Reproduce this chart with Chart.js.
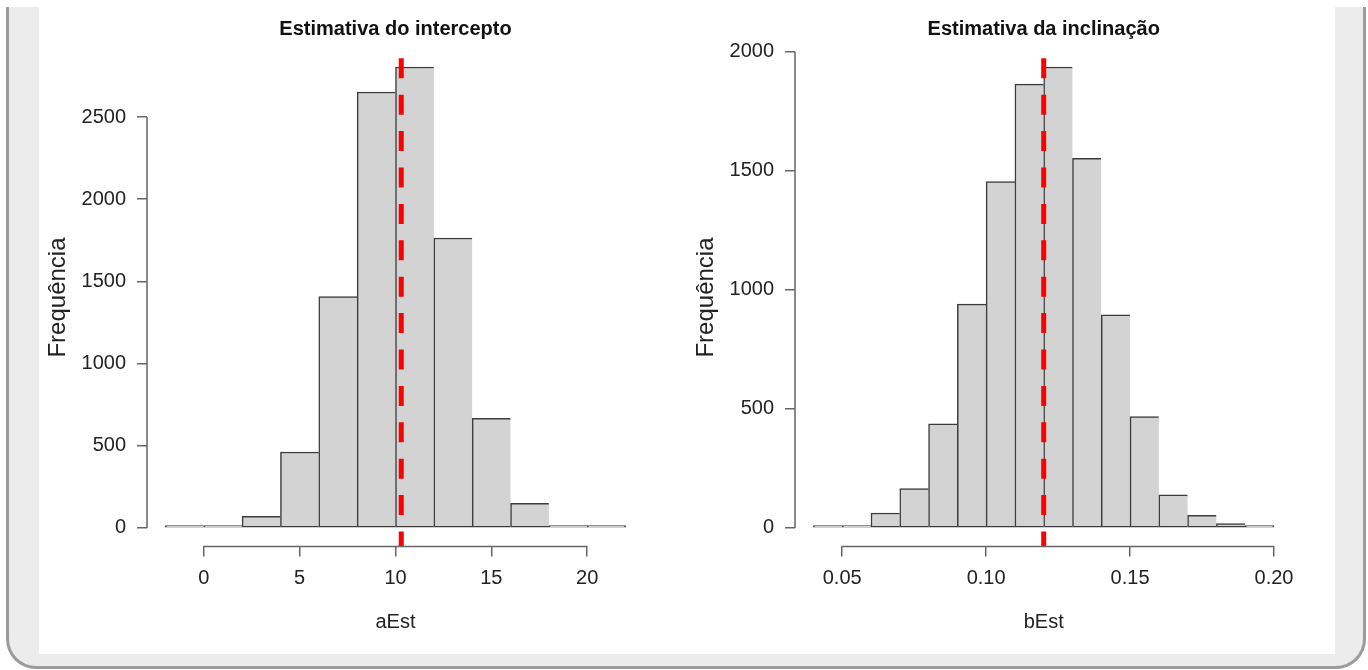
<!DOCTYPE html>
<html lang="pt">
<head>
<meta charset="utf-8">
<script src="https://cdn.jsdelivr.net/npm/chart.js@4.4.1/dist/chart.umd.min.js"></script>
<style>
  html, body { margin: 0; padding: 0; background: #fff; }
  body { width: 1368px; height: 670px; position: relative; overflow: hidden; }
  .frame {
    position: absolute; left: 6px; top: 7px; width: 1360px; height: 662px;
    box-sizing: border-box; background: #ececec;
    border: 3px solid #9b9b9b; border-top: none;
    border-radius: 0 0 30px 30px;
  }
  .panel { position: absolute; left: 39px; top: 0; width: 1296px; height: 654px; background: #fff; }
  canvas { position: absolute; top: 0; }
  #left { left: 0; }
  #right { left: 684px; }
</style>
</head>
<body>
<div class="frame"></div>
<div class="panel"></div>
<canvas id="left" width="684" height="670"></canvas>
<canvas id="right" width="684" height="670"></canvas>
<script>
// Intercept estimates: bin edges, counts per bin, reference value and axis ticks
const aBreaks = [-2, 0, 2, 4, 6, 8, 10, 12, 14, 16, 18, 20, 22];
const aCounts = [2, 10, 71, 462, 1407, 2652, 2804, 1764, 667, 150, 14, 3];
const aMark = 10.3;
const aXTicks = [0, 5, 10, 15, 20];
const aXLabels = ['0', '5', '10', '15', '20'];
const aYTicks = [0, 500, 1000, 1500, 2000, 2500];
const aYLabels = ['0', '500', '1000', '1500', '2000', '2500'];

// Slope estimates
const bBreaks = [0.04, 0.05, 0.06, 0.07, 0.08, 0.09, 0.10, 0.11, 0.12, 0.13, 0.14, 0.15, 0.16, 0.17, 0.18, 0.19, 0.20];
const bCounts = [3, 8, 63, 165, 437, 940, 1455, 1864, 1936, 1553, 895, 468, 139, 53, 18, 3];
const bMark = 0.12;
const bXTicks = [0.05, 0.10, 0.15, 0.20];
const bXLabels = ['0.05', '0.10', '0.15', '0.20'];
const bYTicks = [0, 500, 1000, 1500, 2000];
const bYLabels = ['0', '500', '1000', '1500', '2000'];

const FONT = '"Liberation Sans", Arial, Helvetica, sans-serif';
const INK = '#222';
const AXIS = '#666';

// Detached axis lines, dashed reference line and the panel title
const rAxes = {
  id: 'rAxes',
  afterDatasetsDraw(chart, args, opts) {
    const { ctx, chartArea: ca, scales: { x } } = chart;
    ctx.save();
    const mx = x.getPixelForValue(opts.mark);
    ctx.beginPath();
    ctx.strokeStyle = '#ff0000';
    ctx.lineWidth = 5;
    ctx.setLineDash([20, 16.4]);
    ctx.lineDashOffset = 26.7;
    ctx.moveTo(mx, ca.top);
    ctx.lineTo(mx, ca.bottom);
    ctx.stroke();
    ctx.restore();
  },
  afterDraw(chart, args, opts) {
    const { ctx, chartArea: ca, scales: { x, y } } = chart;
    ctx.save();
    ctx.strokeStyle = AXIS;
    ctx.lineWidth = 1.5;
    ctx.beginPath();
    ctx.moveTo(x.getPixelForValue(opts.xTicks[0]), ca.bottom);
    ctx.lineTo(x.getPixelForValue(opts.xTicks[opts.xTicks.length - 1]), ca.bottom);
    ctx.moveTo(ca.left, y.getPixelForValue(opts.yTicks[0]));
    ctx.lineTo(ca.left, y.getPixelForValue(opts.yTicks[opts.yTicks.length - 1]));
    ctx.stroke();
    ctx.font = 'bold 20px ' + FONT;
    ctx.fillStyle = '#111';
    ctx.textAlign = 'center';
    ctx.textBaseline = 'alphabetic';
    ctx.fillText(opts.title, (ca.left + ca.right) / 2, ca.top - 14);
    ctx.restore();
  }
};

function histogram(id, breaks, counts, mark, xTicks, xLabels, yTicks, yLabels, title, xTitle, padLeft, padRight) {
  const centers = counts.map((_, i) => (breaks[i] + breaks[i + 1]) / 2);
  const lo = breaks[0], hi = breaks[breaks.length - 1];
  const xPad = (hi - lo) * 0.04;
  const peak = Math.max(...counts);
  const yPad = peak * 0.04;
  const last = counts.length - 1;
  return new Chart(document.getElementById(id), {
    type: 'bar',
    data: {
      datasets: [{
        data: centers.map((c, i) => ({ x: c, y: counts[i] })),
        backgroundColor: '#d3d3d3',
        borderColor: '#3c3c3c',
        borderWidth: (c) => ({ top: 1.5, bottom: 1.5, left: 1.5, right: c.dataIndex === last ? 1.5 : 0 }),
        borderSkipped: false,
        barPercentage: 1,
        categoryPercentage: 1,
        minBarLength: 2.5
      }]
    },
    options: {
      responsive: false,
      animation: false,
      devicePixelRatio: 1,
      layout: { padding: { left: padLeft, right: padRight, top: 48.6, bottom: 23.6 } },
      plugins: {
        legend: { display: false },
        tooltip: { enabled: false },
        rAxes: { mark, xTicks, yTicks, title }
      },
      scales: {
        x: {
          type: 'linear',
          offset: false,
          min: lo - xPad,
          max: hi + xPad,
          afterBuildTicks: (s) => { s.ticks = xTicks.map(v => ({ value: v })); },
          afterFit: (s) => { s.height = 100; },
          ticks: {
            callback: (v, i) => xLabels[i],
            font: { family: FONT, size: 20 },
            color: INK,
            padding: 10,
            maxRotation: 0,
            autoSkip: false
          },
          grid: { offset: false, drawOnChartArea: false, drawTicks: true, tickLength: 10, color: AXIS, lineWidth: 1.5 },
          border: { display: false },
          title: {
            display: true, text: xTitle, color: INK,
            font: { family: FONT, size: 20 },
            padding: { top: 0, bottom: 11.5 }
          }
        },
        y: {
          type: 'linear',
          min: -yPad,
          max: peak + yPad,
          afterBuildTicks: (s) => { s.ticks = yTicks.map(v => ({ value: v })); },
          afterFit: (s) => { s.width = 103; },
          ticks: {
            callback: (v, i) => yLabels[i],
            font: { family: FONT, size: 20 },
            color: INK,
            padding: 11,
            autoSkip: false
          },
          grid: { drawOnChartArea: false, drawTicks: true, tickLength: 10, color: AXIS, lineWidth: 1.5 },
          border: { display: false },
          title: {
            display: true, text: 'Frequência', color: INK,
            font: { family: FONT, size: 24 },
            padding: { top: 0, bottom: 0 }
          }
        }
      }
    },
    plugins: [rAxes]
  });
}

histogram('left', aBreaks, aCounts, aMark, aXTicks, aXLabels, aYTicks, aYLabels,
  'Estimativa do intercepto', 'aEst', 44, 40);
histogram('right', bBreaks, bCounts, bMark, bXTicks, bXLabels, bYTicks, bYLabels,
  'Estimativa da inclinação', 'bEst', 8, 75.6);
</script>
</body>
</html>
